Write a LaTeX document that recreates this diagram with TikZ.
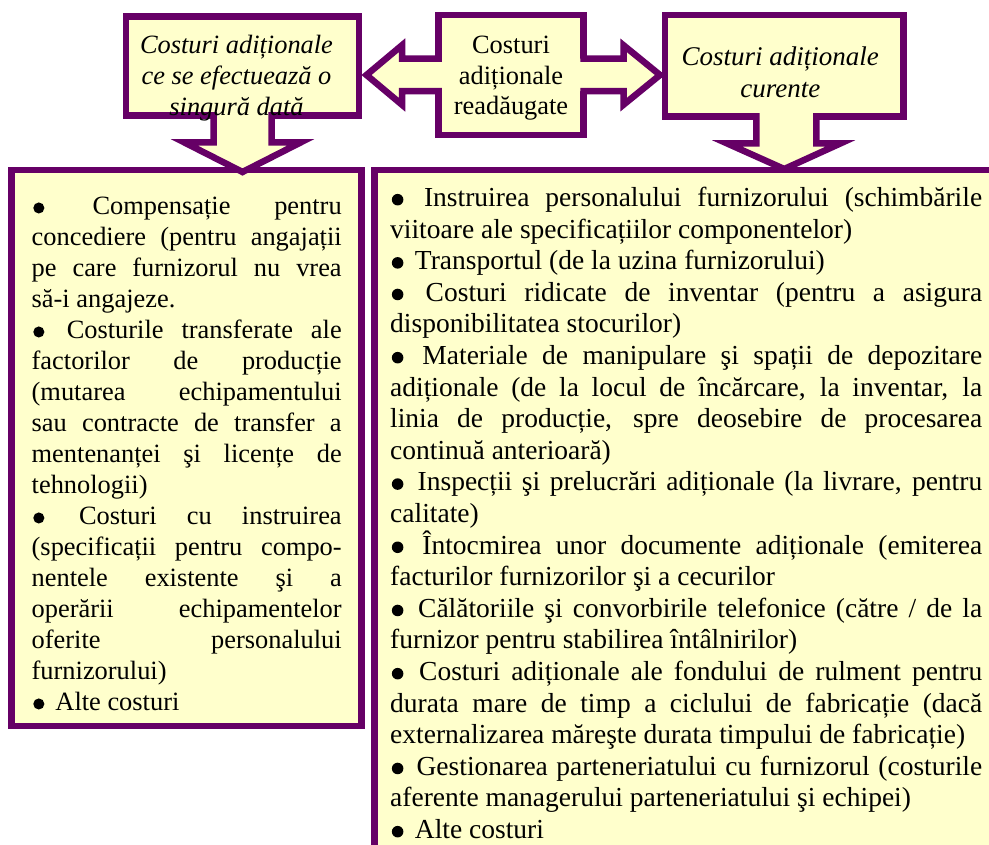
\documentclass[tikz,border=0pt]{standalone}
\usepackage{fontspec}
\setmainfont{Liberation Serif}
\usetikzlibrary{positioning}
\definecolor{boxfill}{RGB}{255,255,204}
\definecolor{boxline}{RGB}{102,0,102}
\tikzset{panel/.style={draw=boxline,fill=boxfill,line width=6.5pt,inner sep=0pt,outer sep=0pt},
        tag/.style={inner sep=0pt,align=center},
        listtext/.style={inner sep=0pt,align=justify,anchor=north west},
        blockarrow/.style={draw=boxline,line width=6.5pt,line cap=rect}}
\newcommand{\dotmark}{\tikz[baseline=0pt]{\useasboundingbox (0,0) rectangle (0.65em,0.4em);
  \fill[black] (0.27em,0.25em) circle (0.21em);}}
\tolerance=10000
\hyphenpenalty=10000

\begin{document}
\begin{tikzpicture}[x=1pt,y=-1pt]
  \useasboundingbox (0,0) rectangle (989,845);
  \clip (0,0) rectangle (989,845);
  % the three boxes on top
  \node[panel,minimum width=233pt,minimum height=99pt] (once) at (242.5,66) {};
  \node[panel,minimum width=145pt,minimum height=120pt] (readded) at (511,75) {};
  \node[panel,minimum width=238.5pt,minimum height=101.5pt] (current) at (784.25,65.75) {};
  % the two lists
  \node[panel,minimum width=350pt,minimum height=556pt] (onceList) at (186.5,448) {};
  \node[panel,minimum width=635.5pt,minimum height=710pt] (currentList) at (692.25,525) {};

  % double arrow out of the middle box
  \begin{scope}[shift={(readded.west)}]
    \fill[boxfill] (4,-16.25) -- (-36.5,-16.25) -- (-36.5,-29.75) -- (-72,0)
      -- (-36.5,29.75) -- (-36.5,16.25) -- (4,16.25) -- cycle;
    \draw[blockarrow] (0,-16.25) -- (-36.5,-16.25) -- (-36.5,-29.75) -- (-72,0)
      -- (-36.5,29.75) -- (-36.5,16.25) -- (0,16.25);
  \end{scope}
  \begin{scope}[shift={(readded.east)}]
    \fill[boxfill] (-4,-16.25) -- (40,-16.25) -- (40,-29.75) -- (76.5,0)
      -- (40,29.75) -- (40,16.25) -- (-4,16.25) -- cycle;
    \draw[blockarrow] (0,-16.25) -- (40,-16.25) -- (40,-29.75) -- (76.5,0)
      -- (40,29.75) -- (40,16.25) -- (0,16.25);
  \end{scope}
  % down arrows
  \begin{scope}[shift={(once.south)}]
    \fill[boxfill] (-29,-4) -- (-29,27) -- (-58,27) -- (0,56.5)
      -- (58,27) -- (29,27) -- (29,-4) -- cycle;
    \draw[blockarrow] (-29,0) -- (-29,27) -- (-58,27) -- (0,56.5)
      -- (58,27) -- (29,27) -- (29,0);
  \end{scope}
  \begin{scope}[shift={(current.south)}]
    \fill[boxfill] (-28,-4) -- (-28,27) -- (-57,27) -- (0,52.5)
      -- (56,27) -- (32,27) -- (32,-4) -- cycle;
    \draw[blockarrow] (-28,0) -- (-28,27) -- (-57,27) -- (0,52.5)
      -- (56,27) -- (32,27) -- (32,0);
  \end{scope}

  \node[tag,font=\fontsize{26.4}{31}\selectfont\itshape,below=18.8pt of once.north,xshift=-6pt] (onceText)
    {Costuri adiționale\\ce se efectuează o\\singură dată};
  \node[tag,font=\fontsize{26.4}{30.5}\selectfont,below=21pt of readded.north] (readdedText)
    {Costuri\\adiționale\\readăugate};
  \node[tag,font=\fontsize{27}{31.5}\selectfont\itshape,below=32pt of current.north,xshift=-4pt] (currentText)
    {Costuri adiționale\\curente};

  \node[listtext,text width=310pt,font=\fontsize{26.4}{31}\selectfont,below right=26.9pt and 20pt of onceList.north west] (onceItems)
    {\dotmark\ Compensație pentru\linebreak concediere (pentru angajații\linebreak pe care furnizorul nu vrea\linebreak să-i angajeze.\par
     \dotmark\ Costurile transferate ale\linebreak factorilor de producție\linebreak (mutarea echipamentului\linebreak sau contracte de transfer a\linebreak mentenanței şi licențe de\linebreak tehnologii)\par
     \dotmark\ Costuri cu instruirea\linebreak (specificații pentru compo-\linebreak nentele existente şi a\linebreak operării echipamentelor\linebreak oferite personalului\linebreak furnizorului)\par
     \dotmark\ Alte costuri};
  \node[listtext,text width=592pt,font=\fontsize{27.5}{31.6}\selectfont,below right=17pt and 15.5pt of currentList.north west] (currentItems)
    {\dotmark\ Instruirea personalului furnizorului (schimbările\linebreak viitoare ale specificațiilor componentelor)\par
     \dotmark\ Transportul (de la uzina furnizorului)\par
     \dotmark\ Costuri ridicate de inventar (pentru a asigura\linebreak disponibilitatea stocurilor)\par
     \dotmark\ Materiale de manipulare şi spații de depozitare\linebreak adiționale (de la locul de încărcare, la inventar, la\linebreak linia de producție, spre deosebire de procesarea\linebreak continuă anterioară)\par
     \dotmark\ Inspecții şi prelucrări adiționale (la livrare, pentru\linebreak calitate)\par
     \dotmark\ Întocmirea unor documente adiționale (emiterea\linebreak facturilor furnizorilor şi a cecurilor\par
     \dotmark\ Călătoriile şi convorbirile telefonice (către / de la\linebreak furnizor pentru stabilirea întâlnirilor)\par
     \dotmark\ Costuri adiționale ale fondului de rulment pentru\linebreak durata mare de timp a ciclului de fabricație (dacă\linebreak externalizarea măreşte durata timpului de fabricație)\par
     \dotmark\ Gestionarea parteneriatului cu furnizorul (costurile\linebreak aferente managerului parteneriatului şi echipei)\par
     \dotmark\ Alte costuri};
\end{tikzpicture}
\end{document}
